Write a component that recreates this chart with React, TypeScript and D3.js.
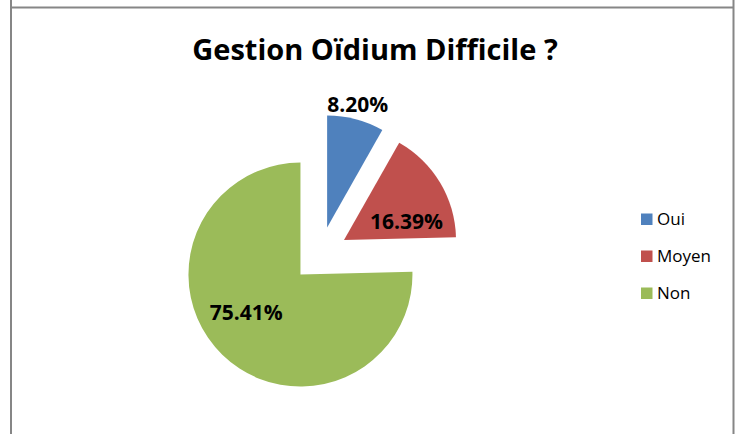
import * as d3 from "d3";

const categories = ["Oui", "Moyen", "Non"];
const values = [8.2, 16.39, 75.41];
const valueLabels = ["8.20%", "16.39%", "75.41%"];
const colors = ["#4F81BD", "#C0504D", "#9BBB59"];

// where each data label sits: fraction of the slice's angle span, distance from slice tip
const labelAt = [
  { t: 0.47, dist: 127 },
  { t: 0.75, dist: 65 },
  { t: 0.54, dist: 66 },
];

export default function App() {
  const width = 741;
  const height = 434;
  const cx = 320;
  const cy = 254.5;
  const radius = 112;
  const explode = 28;
  const font = "'Open Sans', Lato, sans-serif";

  const pie = d3
    .pie<number>()
    .sort(null)
    .value((d) => d);
  const arcs = pie(values);
  const arc = d3.arc<d3.PieArcDatum<number>>().innerRadius(0).outerRadius(radius);

  const polar = (a: number, d: number) => [Math.sin(a) * d, -Math.cos(a) * d];

  return (
    <svg
      width={width}
      height={height}
      style={{ position: "absolute", left: 0, top: 0, background: "#fff" }}
      fontFamily={font}
    >
      {/* frame */}
      <line x1={11} x2={11} y1={0} y2={height} stroke="#868686" strokeWidth={2} />
      <line x1={733.5} x2={733.5} y1={0} y2={height} stroke="#868686" strokeWidth={2} />
      <line x1={10} x2={734} y1={7.5} y2={7.5} stroke="#868686" strokeWidth={2} />

      <text x={375} y={59.5} textAnchor="middle" fontSize={29} fontWeight="bold" fill="#000">
        Gestion Oïdium Difficile ?
      </text>

      {arcs.map((a, i) => {
        const mid = (a.startAngle + a.endAngle) / 2;
        const [ox, oy] = polar(mid, explode);
        const la = a.startAngle + (a.endAngle - a.startAngle) * labelAt[i].t;
        const [lx, ly] = polar(la, labelAt[i].dist);
        return (
          <g key={categories[i]} transform={`translate(${cx + ox},${cy + oy})`}>
            <path d={arc(a) ?? ""} fill={colors[i]} />
            <text
              x={lx}
              y={ly}
              dy="0.36em"
              textAnchor="middle"
              fontSize={21}
              fontWeight="bold"
              fill="#000"
            >
              {valueLabels[i]}
            </text>
          </g>
        );
      })}

      {/* legend */}
      {categories.map((c, i) => (
        <g key={c} transform={`translate(641,${213.5 + i * 37})`}>
          <rect width={11.5} height={11.5} fill={colors[i]} />
          <text x={16} y={11.8} fontSize={17} fill="#000">
            {c}
          </text>
        </g>
      ))}
    </svg>
  );
}
